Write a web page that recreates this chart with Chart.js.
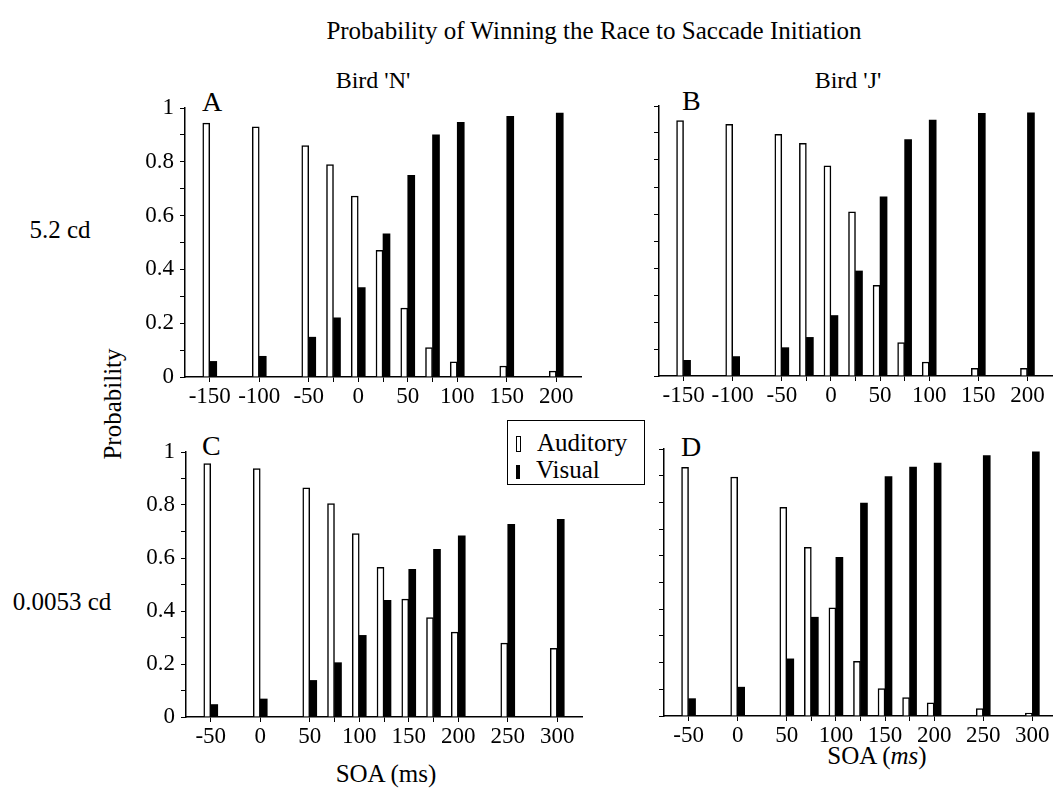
<!DOCTYPE html>
<html>
<head>
<meta charset="utf-8">
<script src="https://cdn.jsdelivr.net/npm/chart.js@4/dist/chart.umd.min.js"></script>
<style>
  body { margin: 0; background: #fff; }
  #page { position: relative; width: 1053px; height: 789px; overflow: hidden; background: #fff;
          font-family: 'Liberation Serif', 'Times New Roman', serif; color: #000; }
  .panel { position: absolute; }
  .txt { position: absolute; white-space: nowrap; transform: translate(-50%, -50%); line-height: 1; }
  .letter { position: absolute; font-size: 28px; line-height: 1; }
  #legend { position: absolute; left: 507px; top: 420px; width: 136px; height: 63px;
            border: 1.5px solid #000; background: #fff; z-index: 5; }
  #legend .row { position: absolute; left: 8px; font-size: 25px; line-height: 1; }
  #legend .sw { display: inline-block; width: 4px; height: 14px; margin-right: 16px; vertical-align: -1px; }
</style>
</head>
<body>
<div id="page">
  <div class="txt" style="left:594px; top:30px; font-size:25px;">Probability of Winning the Race to Saccade Initiation</div>
  <div class="txt" style="left:373px; top:80px; font-size:24px;">Bird 'N'</div>
  <div class="txt" style="left:848px; top:80px; font-size:24px;">Bird 'J'</div>
  <div class="txt" style="left:60px; top:229px; font-size:25px;">5.2 cd</div>
  <div class="txt" style="left:62px; top:601px; font-size:25px;">0.0053 cd</div>
  <div class="txt" style="left:112px; top:404px; font-size:25px; transform: translate(-50%, -50%) rotate(-90deg);">Probability</div>
  <div class="txt" style="left:386px; top:773px; font-size:25px;">SOA (ms)</div>
  <div class="txt" style="left:877px; top:755px; font-size:25px;">SOA (<i>ms</i>)</div>

  <div class="letter" style="left:202px; top:88px;">A</div>
  <div class="letter" style="left:682px; top:87px;">B</div>
  <div class="letter" style="left:202px; top:432px;">C</div>
  <div class="letter" style="left:681px; top:433px;">D</div>

  <div id="legend">
    <div class="row" style="top:9px;"><span class="sw" style="border:1px solid #000; width:3px;"></span>Auditory</div>
    <div class="row" style="top:36px;"><span class="sw" style="background:#000;"></span>Visual</div>
  </div>

  <div class="panel" style="left:105px; top:88px; width:477px; height:334px;"><canvas id="chartA"></canvas></div>
  <div class="panel" style="left:579px; top:86px; width:474px; height:335px;"><canvas id="chartB"></canvas></div>
  <div class="panel" style="left:106px; top:432px; width:477px; height:330px;"><canvas id="chartC"></canvas></div>
  <div class="panel" style="left:584px; top:429px; width:469px; height:332px;"><canvas id="chartD"></canvas></div>
</div>

<script>
// SOA values (ms) for the 5.2 cd (top) and 0.0053 cd (bottom) conditions
var soaBright = [-150, -100, -50, -25, 0, 25, 50, 75, 100, 150, 200];
var soaDim = [-50, 0, 50, 75, 100, 125, 150, 175, 200, 250, 300];

// labelled ticks on the x axes
var xLabelsBright = [-150, -100, -50, 0, 50, 100, 150, 200];
var xLabelsDim = [-50, 0, 50, 100, 150, 200, 250, 300];

// Bird 'N', 5.2 cd
var audA = [0.944, 0.93, 0.86, 0.79, 0.673, 0.471, 0.256, 0.109, 0.056, 0.041, 0.022];
var visA = [0.058, 0.077, 0.148, 0.22, 0.332, 0.532, 0.75, 0.90, 0.947, 0.969, 0.981];

// Bird 'J', 5.2 cd
var audB = [0.946, 0.932, 0.895, 0.862, 0.778, 0.608, 0.336, 0.124, 0.052, 0.028, 0.028];
var visB = [0.058, 0.072, 0.105, 0.143, 0.224, 0.389, 0.664, 0.876, 0.948, 0.973, 0.975];

// Bird 'N', 0.0053 cd
var audC = [0.956, 0.937, 0.865, 0.805, 0.692, 0.565, 0.445, 0.375, 0.32, 0.279, 0.259];
var visC = [0.047, 0.068, 0.138, 0.205, 0.308, 0.44, 0.557, 0.633, 0.684, 0.727, 0.746];

// Bird 'J', 0.0053 cd
var audD = [0.931, 0.895, 0.782, 0.632, 0.405, 0.205, 0.103, 0.069, 0.049, 0.028, 0.011];
var visD = [0.065, 0.108, 0.214, 0.37, 0.594, 0.797, 0.897, 0.932, 0.947, 0.975, 0.989];

Chart.defaults.font.family = "'Liberation Serif', 'Times New Roman', serif";
Chart.defaults.color = '#000';

function toPoints(xs, ys) {
    return xs.map(function(x, i) { return { x: x, y: ys[i] }; });
}

function createPanel(id, soa, xLabels, aud, vis, xMin, xMax, showYLabels) {
    var ctx = document.getElementById(id);
    return new Chart(ctx, {
        type: 'bar',
        data: {
            datasets: [{
                label: 'Auditory',
                data: toPoints(soa, aud),
                backgroundColor: '#fff',
                borderColor: '#000',
                borderWidth: 1.5,
                barThickness: 7
            }, {
                label: 'Visual',
                data: toPoints(soa, vis),
                backgroundColor: '#000',
                borderWidth: 0,
                barThickness: 7
            }]
        },
        options: {
            responsive: true,
            maintainAspectRatio: false,
            animation: false,
            layout: { padding: { top: 20, right: 1, left: 0, bottom: 0 } },
            plugins: { legend: { display: false }, tooltip: { enabled: false } },
            scales: {
                x: {
                    type: 'linear',
                    offset: false,
                    min: xMin,
                    max: xMax,
                    afterBuildTicks: function(scale) {
                        scale.ticks = soa.map(function(v) { return { value: v }; });
                    },
                    afterFit: function(scale) { scale.height = 45; },
                    grid: { offset: false, drawOnChartArea: false, tickLength: 5, color: '#000', lineWidth: 1 },
                    border: { color: '#000', width: 1.5 },
                    ticks: {
                        autoSkip: false,
                        maxRotation: 0,
                        padding: 1,
                        font: { size: 23 },
                        callback: function(v) { return xLabels.indexOf(v) >= 0 ? String(v) : ''; }
                    }
                },
                y: {
                    min: 0,
                    max: 1,
                    afterFit: function(scale) { scale.width = 80; },
                    grid: { drawOnChartArea: false, tickLength: 5, color: '#000', lineWidth: 1 },
                    border: { color: '#000', width: 1.5 },
                    ticks: {
                        stepSize: 0.1,
                        autoSkip: false,
                        padding: 6,
                        font: { size: 23 },
                        callback: function(v) {
                            var k = Math.round(v * 10);
                            if (!showYLabels || k % 2) return '';
                            if (k === 0) return '0';
                            if (k === 10) return '1';
                            return (k / 10).toFixed(1);
                        }
                    }
                }
            }
        }
    });
}

createPanel('chartA', soaBright, xLabelsBright, audA, visA, -175, 225, true);
createPanel('chartB', soaBright, xLabelsBright, audB, visB, -175, 225, false);
createPanel('chartC', soaDim, xLabelsDim, audC, visC, -75, 325, true);
createPanel('chartD', soaDim, xLabelsDim, audD, visD, -75, 320, false);
</script>
</body>
</html>
